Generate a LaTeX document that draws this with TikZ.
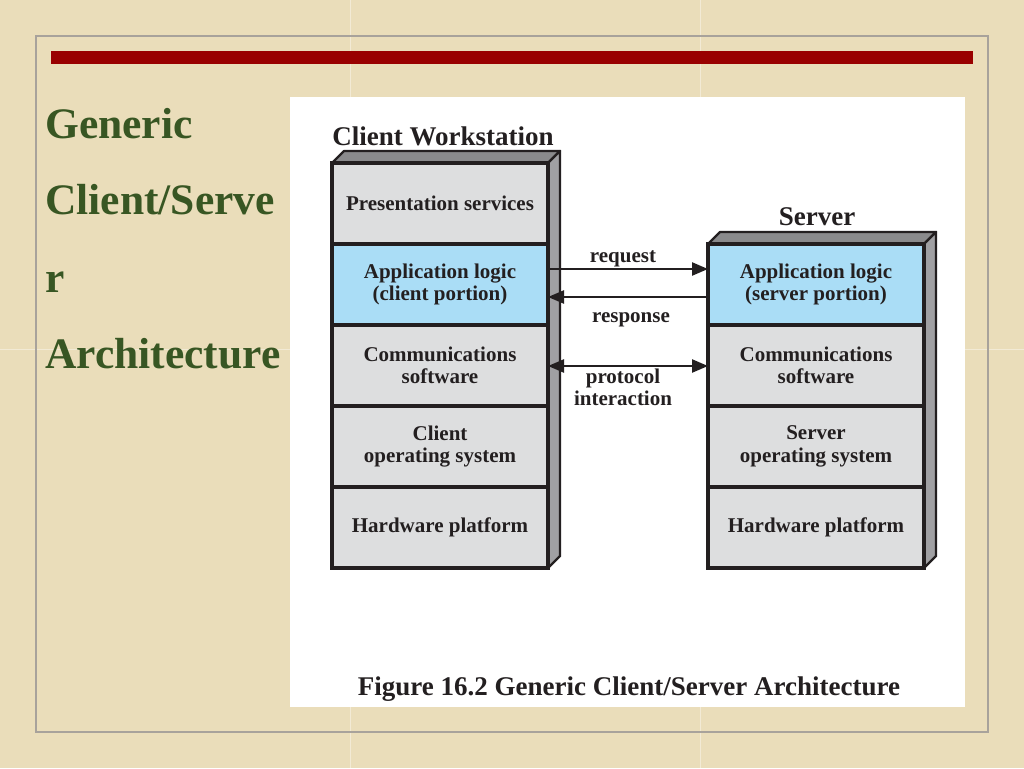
\documentclass[tikz,border=0pt]{standalone}
\usepackage{fontspec}
\setmainfont{Liberation Serif}
\usetikzlibrary{arrows.meta,calc}
\definecolor{parch}{RGB}{234,221,186}
\definecolor{framegray}{RGB}{168,162,155}
\definecolor{barred}{RGB}{153,0,0}
\definecolor{titlegreen}{RGB}{56,86,35}
\definecolor{laygray}{RGB}{221,222,223}
\definecolor{layblue}{RGB}{170,221,246}
\definecolor{sidegray}{RGB}{160,160,163}
\definecolor{topgray}{RGB}{138,138,140}
\definecolor{txt}{RGB}{35,31,32}
\tikzset{
  layerbox/.style={draw=txt, line width=3.2pt, fill=laygray, minimum width=216pt,
    minimum height=81pt, inner sep=0pt, outer sep=0pt, align=center,
    font=\fontsize{21}{22.5}\selectfont\bfseries, text=txt},
  bluebox/.style={layerbox, fill=layblue},
  facet/.style={draw=txt, line width=2.4pt, line join=round},
  arr/.style={draw=txt, line width=2.4pt, -{Triangle[length=16pt,width=13pt]}},
  darr/.style={draw=txt, line width=2.4pt, {Triangle[length=16pt,width=13pt]}-{Triangle[length=16pt,width=13pt]}},
  lbl/.style={font=\fontsize{21}{22}\selectfont\bfseries, text=txt, inner sep=0pt, align=center},
  head/.style={font=\fontsize{27}{30}\selectfont\bfseries, text=txt, inner sep=0pt},
  titletext/.style={font=\fontsize{43.5}{48}\selectfont\bfseries, text=titlegreen, inner sep=0pt, anchor=base west},
  seam/.style={draw=white, opacity=0.4, line width=1pt}
}
\begin{document}
\begin{tikzpicture}[x=1pt,y=-1pt]
\useasboundingbox (0,0) rectangle (1024,768);
\fill[parch] (0,0) rectangle (1024,768);
% texture seams
\draw[seam] (350,0) -- (350,768);
\draw[seam] (700,0) -- (700,768);
\draw[seam] (0,349) -- (1024,349);
% frame and bar
\draw[framegray, line width=1.5pt] (36,36) rectangle (988,732);
\fill[barred] (51,51) rectangle (973,64);
% title
\node[titletext] (t1) at (45,138) {Generic};
\node[titletext] (t2) at (45,214) {Client/Serve};
\node[titletext] (t3) at (45,292) {r};
\node[titletext] (t4) at (45,368) {Architecture};
% white panel
\fill[white] (290,97) rectangle (965,707);
% client 3D facets
\draw[facet, fill=topgray] (332,163) -- (344,151) -- (560,151) -- (548,163) -- cycle;
\draw[facet, fill=sidegray] (548,163) -- (560,151) -- (560,556) -- (548,568) -- cycle;
% server 3D facets
\draw[facet, fill=topgray] (708,244) -- (720,232) -- (936,232) -- (924,244) -- cycle;
\draw[facet, fill=sidegray] (924,244) -- (936,232) -- (936,556) -- (924,568) -- cycle;
% client layers
\node[layerbox] (c1) at (440,203.5) {Presentation services};
\node[bluebox]  (c2) at (440,284.5) {Application logic\\(client portion)};
\node[layerbox] (c3) at (440,365.5) {Communications\\software};
\node[layerbox] (c4) at (440,446.5) {Client\\operating system};
\node[layerbox] (c5) at (440,527.5) {Hardware platform};
% server layers
\node[bluebox]  (s2) at (816,284.5) {Application logic\\(server portion)};
\node[layerbox] (s3) at (816,365.5) {Communications\\software};
\node[layerbox] (s4) at (816,446.5) {Server\\operating system};
\node[layerbox] (s5) at (816,527.5) {Hardware platform};
% headings
\node[head, anchor=base] (hc) at (443,145) {Client Workstation};
\node[head, anchor=base] (hs) at (817,225) {Server};
% connectors
\draw[arr] ($(c2.east)+(0,-15.5)$) -- ($(s2.west)+(0,-15.5)$);
\draw[arr] ($(s2.west)+(0,12.5)$) -- ($(c2.east)+(0,12.5)$);
\draw[darr] ($(c3.east)+(0,0.5)$) -- ($(s3.west)+(0,0.5)$);
% labels
\node[lbl, anchor=base] (lreq) at (623,262) {request};
\node[lbl, anchor=base] (lres) at (631,322) {response};
\node[lbl, anchor=base] (lpro) at (623,383) {protocol};
\node[lbl, anchor=base] (lint) at (623,405) {interaction};
% caption
\node[head, anchor=base] (cap) at (629,695) {Figure 16.2 Generic Client/Server Architecture};
\end{tikzpicture}
\end{document}
